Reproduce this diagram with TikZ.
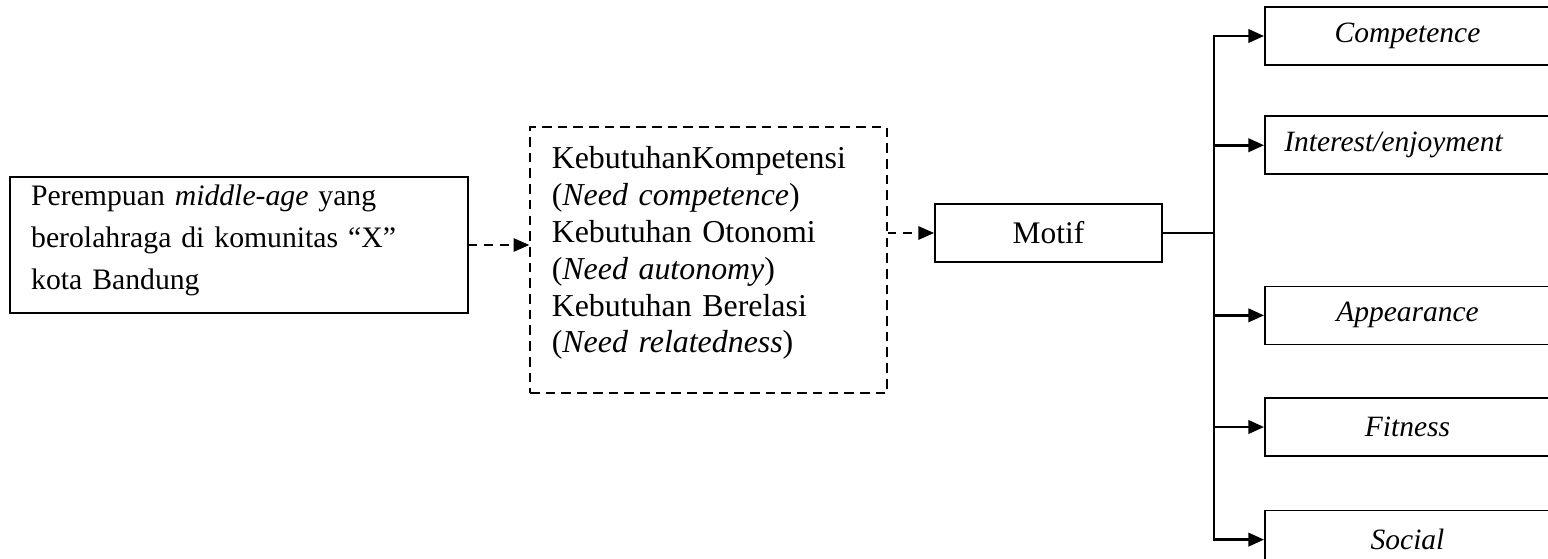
\documentclass[tikz,border=0pt]{standalone}
\usepackage{fontspec}
\setmainfont{Liberation Serif}
\usepackage{tikz}
\usetikzlibrary{positioning, arrows.meta}
\tikzset{font={\fontsize{12pt}{15.3pt}\selectfont}}

\begin{document}
\begin{tikzpicture}[
  x=0.4138pt, y=-0.4138pt,
  subject/.style={rectangle, draw, line width=0.7pt, text width=172pt, inner xsep=8.7pt, inner ysep=1pt, minimum height=56.3pt, text depth=41.5pt, align=left, font={\fontsize{12.3pt}{17.4pt}\selectfont}},
  needs/.style={rectangle, draw, dash pattern=on 4pt off 2.5pt, line width=0.6pt, text width=129.7pt, inner xsep=9pt, inner ysep=1pt, minimum height=110pt, text depth=85.2pt, align=left, font={\fontsize{13.2pt}{15.3pt}\selectfont}},
  motive/.style={rectangle, draw, line width=0.7pt, minimum width=94pt, minimum height=24pt, font={\fontsize{13pt}{15pt}\selectfont}},
  kind/.style={rectangle, draw, line width=0.7pt, minimum width=118pt, minimum height=24pt, font={\fontsize{12.2pt}{15pt}\selectfont\itshape}},
  arr/.style={-{Triangle[length=6.5pt, width=5.5pt]}, line width=1.2pt},
  darr/.style={-{Triangle[length=6.5pt, width=5.5pt]}, line width=0.8pt, dash pattern=on 3.5pt off 3pt}
]
\useasboundingbox (0,0) rectangle (1548,559);

\node[subject] (woman) at (239,245) {Perempuan \textit{middle-age} yang\\berolahraga di komunitas ``X''\\kota Bandung};
\node[needs] (need) at (708.5,260) {KebutuhanKompetensi\\(\textit{Need competence})\\Kebutuhan Otonomi\\(\textit{Need autonomy})\\Kebutuhan Berelasi\\(\textit{Need relatedness})};
\node[motive] (motif) at (1048.5,233) {Motif};
\coordinate (split) at (1214,233);

% kinds of motive
\node[kind] (comp) at (1407.5,36) {Competence};
\node[kind, below=20.5pt of comp] (inter) {\hspace*{-11.6pt}Interest/enjoyment};
\node[kind, below=45.7pt of inter] (appear) {Appearance};
\node[kind, below=21.5pt of appear] (fit) {Fitness};
\node[kind, below=21.9pt of fit] (social) {Social};

\draw[darr] (woman.east) -- (woman.east -| need.west);
\draw[darr] (need.east |- motif.west) -- (motif.west);
\draw[line width=1.2pt] (motif.east) -- (split);
\foreach \k in {comp, inter, appear, fit, social}
  \draw[arr] (split) |- (\k.west);
\end{tikzpicture}
\end{document}
